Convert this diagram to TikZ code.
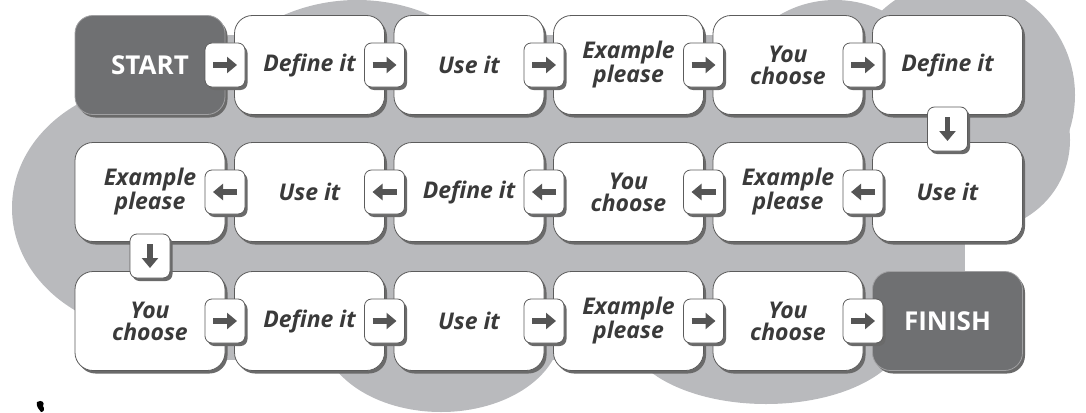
\documentclass[tikz,border=0pt]{standalone}
\usepackage{fontspec}
\setmainfont{Open Sans}
\usetikzlibrary{shadows,arrows.meta}
\definecolor{cloudc}{HTML}{B9BABD}
\definecolor{darkc}{HTML}{6F7072}
\definecolor{darkline}{HTML}{A0A0A2}
\definecolor{boxline}{HTML}{5C5C5C}
\definecolor{shadowc}{HTML}{6A6A6A}
\definecolor{textc}{HTML}{3A3A3A}
\definecolor{arrowc}{HTML}{555555}
\newcommand\lblfont{\fontsize{23}{22}\selectfont\bfseries\itshape}
\newcommand\bigfnt{\fontsize{26}{26}\selectfont\bfseries}
\begin{document}
\begin{tikzpicture}[x=1pt,y=-1pt,
  box/.style={rounded corners=18pt, minimum width=150pt, minimum height=99pt,
    draw=boxline, line width=0.8pt, fill=white,
    general shadow={fill=shadowc, shadow xshift=2.5pt, shadow yshift=-3pt},
    font=\lblfont, text=textc, align=center, inner sep=0pt},
  darkbox/.style={box, fill=darkc, draw=darkline, text=white, font=\bigfnt},
  arrbox/.style={rounded corners=7pt, minimum width=40pt, minimum height=44pt,
    draw=boxline, line width=0.8pt, fill=white, inner sep=0pt,
    general shadow={fill=shadowc, shadow xshift=2.5pt, shadow yshift=-3pt}},
  arr/.style={line width=5.5pt, draw=arrowc, -{Triangle[length=10pt,width=16pt]}}]
\useasboundingbox (0,0) rectangle (1086,412);
% background cloud
\begin{scope}[cloudc]
\fill (80,35) rectangle (965,360);
\fill (160,208) ellipse [x radius=148, y radius=125];
\fill (357,185) circle [radius=185];
\fill (835,110) circle [radius=110];
\fill (960,95) circle [radius=115];
\fill (980,140) circle [radius=90];
\fill (441,330) ellipse [x radius=120, y radius=82];
\fill (766,330) ellipse [x radius=140, y radius=74];
\end{scope}
% small mark bottom left
\fill[black] (37,402) .. controls (42,399) and (45,403) .. (43,406) .. controls (45,409) and (44,412) .. (41,412) .. controls (39,409) and (36,407) .. (37,402) -- cycle;
% row 1
\node[darkbox] (r1c1) at (150,65) {START};
\node[box] (r1c2) at (309.5,65) {Define it};
\node[box] (r1c3) at (469,65) {Use it};
\node[box] (r1c4) at (628.5,65) {Example\\please};
\node[box] (r1c5) at (788,65) {You\\choose};
\node[box] (r1c6) at (947.5,65) {Define it};
% row 2
\node[box] (r2c1) at (150,192) {Example\\please};
\node[box] (r2c2) at (309.5,192) {Use it};
\node[box] (r2c3) at (469,192) {Define it};
\node[box] (r2c4) at (628.5,192) {You\\choose};
\node[box] (r2c5) at (788,192) {Example\\please};
\node[box] (r2c6) at (947.5,192) {Use it};
% row 3
\node[box] (r3c1) at (150,321) {You\\choose};
\node[box] (r3c2) at (309.5,321) {Define it};
\node[box] (r3c3) at (469,321) {Use it};
\node[box] (r3c4) at (628.5,321) {Example\\please};
\node[box] (r3c5) at (788,321) {You\\choose};
\node[darkbox] (r3c6) at (947.5,321) {FINISH};
% arrow boxes
\foreach \r/\y in {1/65,2/192,3/321}{
  \foreach \c/\x in {1/225,2/384.5,3/544,4/703.5,5/863}{
    \node[arrbox] (a\r\c) at (\x,\y) {};
  }
}
\node[arrbox] (v1) at (947.5,129) {};
\node[arrbox] (v2) at (150,256) {};
% arrow glyphs
\foreach \c in {1,...,5}{
  \draw[arr] ([xshift=-12pt]a1\c.center) -- ([xshift=12pt]a1\c.center);
  \draw[arr] ([xshift=12pt]a2\c.center) -- ([xshift=-12pt]a2\c.center);
  \draw[arr] ([xshift=-12pt]a3\c.center) -- ([xshift=12pt]a3\c.center);
}
\draw[arr] ([yshift=12pt]v1.center) -- ([yshift=-12pt]v1.center);
\draw[arr] ([yshift=12pt]v2.center) -- ([yshift=-12pt]v2.center);
\end{tikzpicture}
\end{document}
